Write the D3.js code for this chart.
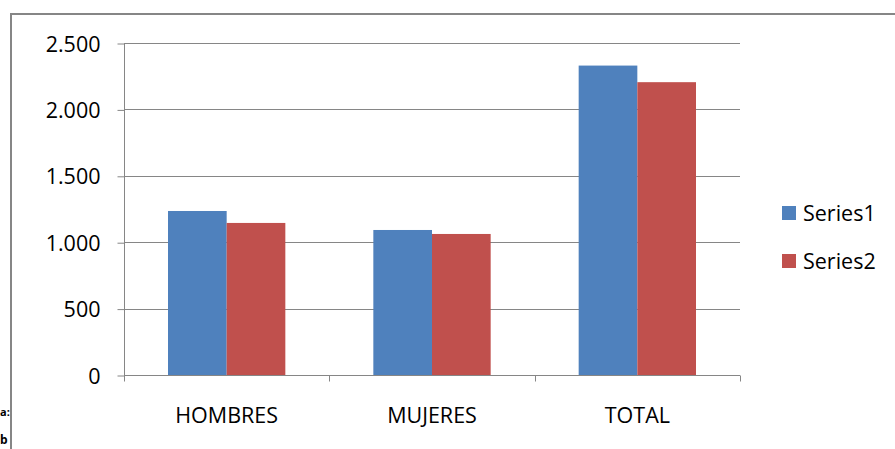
<!DOCTYPE html>
<html>
<head>
<meta charset="utf-8">
<script src="https://cdn.jsdelivr.net/npm/d3@7"></script>
<style>
  body { margin: 0; background: #fff; }
  text { font-family: "Open Sans", "Noto Sans", sans-serif; fill: #000; }
</style>
</head>
<body>
<div id="vis"></div>
<script>
const categories = ['HOMBRES', 'MUJERES', 'TOTAL'];
const seriesNames = ['Series1', 'Series2'];
const series1 = [1235, 1092, 2330];
const series2 = [1145, 1062, 2205];
const yTicks = [0, 500, 1000, 1500, 2000, 2500];
const yTickLabels = ['0', '500', '1.000', '1.500', '2.000', '2.500'];

const colours = ['#4f81bd', '#c0504d'];
const W = 895, H = 449;
const plot = { left: 124, right: 740, top: 43, bottom: 375 };
const fontSize = 21.5;

const $svg = d3.select('#vis').append('svg')
  .attr('width', W)
  .attr('height', H);

// outer chart border (runs off the right and bottom edges)
$svg.append('path')
  .attr('d', `M11,${H + 5}V14H${W + 5}`)
  .attr('fill', 'none')
  .attr('stroke', '#868686')
  .attr('stroke-width', 2);

// stray fragments at bottom left
$svg.append('text').attr('x', 0).attr('y', 416)
  .attr('font-size', 11).attr('font-weight', 700).text('a:');
$svg.append('text').attr('x', 0).attr('y', 444)
  .attr('font-size', 12).attr('font-weight', 700).text('b');

// each category cell: bars with a 150% gap width
const cellW = (plot.right - plot.left) / categories.length;
const barW = cellW / 3.5;
const xCell = d3.scaleBand().domain(categories).range([plot.left, plot.right]);
const x1 = d3.scaleBand().domain(seriesNames).range([0, barW * 2]);

const y = d3.scaleLinear().domain([0, 2500]).range([plot.bottom, plot.top]);

// gridlines
$svg.append('g')
  .selectAll('line')
  .data(yTicks.slice(1))
  .enter().append('line')
  .attr('x1', plot.left)
  .attr('x2', plot.right)
  .attr('y1', d => Math.round(y(d)) + 0.5)
  .attr('y2', d => Math.round(y(d)) + 0.5)
  .attr('stroke', '#868686')
  .attr('stroke-width', 1);

// bars
const data = [series1, series2];
$svg.append('g')
  .selectAll('g')
  .data(seriesNames)
  .enter().append('g')
  .attr('fill', (d, i) => colours[i])
  .selectAll('rect')
  .data((s, i) => categories.map((c, j) => ({ c, s, v: data[i][j] })))
  .enter().append('rect')
  .attr('x', d => xCell(d.c) + barW * 0.75 + x1(d.s))
  .attr('y', d => y(d.v))
  .attr('width', x1.bandwidth())
  .attr('height', d => y(0) - y(d.v));

// y axis
const yAxis = d3.axisLeft(y)
  .tickValues(yTicks)
  .tickFormat((d, i) => yTickLabels[i])
  .tickSize(7)
  .tickPadding(17);

const $yAxis = $svg.append('g')
  .attr('transform', `translate(${plot.left + 0.5}, 0.5)`)
  .call(yAxis);
$yAxis.selectAll('line').attr('stroke', '#868686');
$yAxis.select('.domain').attr('stroke', '#868686').attr('d', `M0,${plot.top}V${plot.bottom + 5}`);
$yAxis.selectAll('text').attr('font-size', fontSize).attr('fill', '#000').attr('dy', '0.35em');

// x axis
const xAxis = d3.axisBottom(xCell).tickSize(0).tickPadding(32);
const $xAxis = $svg.append('g')
  .attr('transform', `translate(0, ${plot.bottom + 0.5})`)
  .call(xAxis);
$xAxis.select('.domain').attr('stroke', '#868686').attr('d', `M${plot.left},0H${plot.right}`);
$xAxis.selectAll('text').attr('font-size', fontSize).attr('fill', '#000');
$xAxis.selectAll('.xtick')
  .data(d3.range(categories.length + 1))
  .enter().append('line')
  .attr('x1', i => Math.round(plot.left + i * cellW) + 0.5)
  .attr('x2', i => Math.round(plot.left + i * cellW) + 0.5)
  .attr('y1', 0)
  .attr('y2', 6)
  .attr('stroke', '#868686');

// legend
const $legend = $svg.append('g')
  .attr('transform', 'translate(782, 206)');
const $items = $legend.selectAll('g')
  .data(seriesNames)
  .enter().append('g')
  .attr('transform', (d, i) => `translate(0, ${i * 48})`);
$items.append('rect')
  .attr('width', 14)
  .attr('height', 14)
  .attr('fill', (d, i) => colours[i]);
$items.append('text')
  .attr('x', 21)
  .attr('y', 7)
  .attr('dy', '0.35em')
  .attr('font-size', fontSize)
  .text(d => d);
</script>
</body>
</html>
